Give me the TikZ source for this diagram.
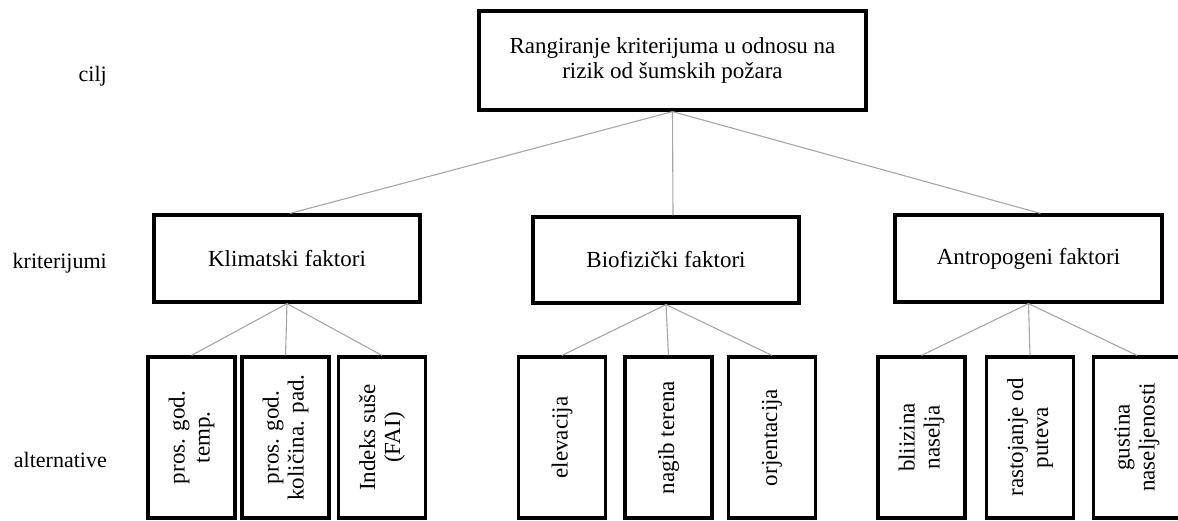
\documentclass[tikz,border=0pt]{standalone}
\usepackage{fontspec}
\setmainfont{Liberation Serif}
\begin{document}
\begin{tikzpicture}[x=1pt,y=-1pt,
  txt/.style={font=\fontsize{22}{25}\selectfont},
  btxt/.style={font=\fontsize{23}{25}\selectfont},
  box/.style={btxt,draw=black,line width=3.2pt,rectangle,inner sep=0pt,align=center},
  leaf/.style={box,rotate=90,minimum width=161pt,minimum height=87pt},
  conn/.style={draw=black!35,line width=1.1pt},
  lvl/.style={txt,anchor=east,inner sep=0pt}]
\useasboundingbox (0,0) rectangle (1178,520);
\clip (0,0) rectangle (1178,520);
% levels
\node[lvl] (lc) at (107,76) {cilj};
\node[lvl] (lk) at (107,263) {kriterijumi};
\node[lvl] (la) at (107,460) {alternative};
% goal
\node[box,minimum width=387pt,minimum height=99pt] (goal) at (672.5,60.5)
  {Rangiranje kriterijuma u odnosu na\\rizik od šumskih požara};
% criteria
\node[box,minimum width=266pt,minimum height=87pt] (K) at (287,258.5) {Klimatski faktori};
\node[box,minimum width=266pt,minimum height=86pt] (B) at (666,260) {Biofizički faktori};
\node[box,minimum width=267pt,minimum height=87pt] (A) at (1028.5,258.5) {Antropogeni faktori};
% alternatives
\node[leaf] (k1) at (191.5,437.5) {pros. god.\\temp.};
\node[leaf] (k2) at (285.5,437.5) {pros. god.\\količina. pad.};
\node[leaf] (k3) at (382,437.5) {Indeks suše\\(FAI)};
\node[leaf] (b1) at (562,437.5) {elevacija};
\node[leaf] (b2) at (668.5,437.5) {nagib terena};
\node[leaf] (b3) at (772,437.5) {orjentacija};
\node[leaf] (a1) at (921.5,437.5) {bliizina\\naselja};
\node[leaf] (a2) at (1030,437.5) {rastojanje od\\puteva};
\node[leaf] (a3) at (1137,437.5) {gustina\\naseljenosti};
% connectors
\draw[conn] (goal.south) -- ([xshift=3pt]K.north);
\draw[conn] (goal.south) -- ([xshift=7pt]B.north);
\draw[conn] (goal.south) -- ([xshift=12pt]A.north);
\foreach \p/\c in {K/k1,K/k2,K/k3,B/b1,B/b2,B/b3,A/a1,A/a2,A/a3}
  \draw[conn] (\p.south) -- (\c.east);
\end{tikzpicture}
\end{document}
